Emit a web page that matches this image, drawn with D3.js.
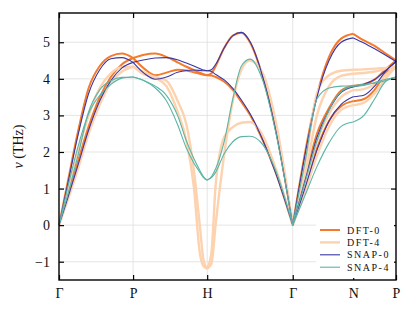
<!DOCTYPE html>
<html>
<head>
<meta charset="utf-8">
<script src="https://cdn.jsdelivr.net/npm/d3@7"></script>
<style>
  body { margin: 0; background: #fff; }
  svg text { font-family: "Liberation Serif", "DejaVu Serif", serif; fill: #111; }
</style>
</head>
<body>
<div id="chart"></div>
<script>
// band path: high-symmetry points (distance along path)
const kLabels = ["Γ", "P", "H", "Γ", "N", "P"];
const kTicks = [0, 0.866, 1.732, 2.732, 3.439, 3.939];
const yTicks = [-1, 0, 1, 2, 3, 4, 5];

// sample positions inside each segment (fraction of segment)
const segFractions = [
    [0, 0.12, 0.25, 0.4, 0.55, 0.7, 0.85, 1],
    [0, 0.15, 0.3, 0.45, 0.6, 0.72, 0.82, 0.9, 0.95, 1],
    [0, 0.05, 0.1, 0.2, 0.3, 0.4, 0.5, 0.65, 0.8, 1],
    [0, 0.2, 0.4, 0.6, 0.8, 1],
    [0, 0.25, 0.5, 0.75, 1]
];

// frequencies (THz), per segment, per branch
const dft0 = [
    [[0, 1.2, 2.5, 3.75, 4.35, 4.62, 4.69, 4.57],
     [0, 0.8, 1.7, 2.7, 3.5, 4.05, 4.4, 4.57]],
    [[4.57, 4.66, 4.69, 4.6, 4.45, 4.33, 4.24, 4.17, 4.13, 4.1],
     [4.57, 4.28, 4.1, 4.17, 4.25, 4.23, 4.18, 4.14, 4.11, 4.1]],
    [[4.1, 4.15, 4.35, 4.85, 5.18, 5.26, 5.0, 4.05, 2.65, 0],
     [4.1, 4.09, 4.05, 3.92, 3.7, 3.37, 3.02, 2.32, 1.45, 0]],
    [[0, 1.95, 3.55, 4.6, 5.1, 5.23],
     [0, 1.25, 2.5, 3.2, 3.68, 3.81],
     [0, 1.05, 2.1, 2.85, 3.25, 3.39]],
    [[5.23, 5.05, 4.9, 4.7, 4.5],
     [3.81, 3.85, 3.98, 4.25, 4.5],
     [3.39, 3.45, 3.7, 4.15, 4.5]]
];

const dft4 = [
    [[0, 0.95, 1.95, 3.0, 3.75, 4.15, 4.32, 4.33],
     [0, 0.7, 1.5, 2.5, 3.3, 3.9, 4.2, 4.33]],
    [[4.33, 4.18, 4.03, 3.8, 3.1, 2.3, 1.05, -0.75, -1.12, -1.19],
     [4.35, 4.12, 4.05, 3.95, 3.4, 2.75, 1.5, 0.0, -0.95, -1.19]],
    [[-1.19, -1.05, 0.05, 1.95, 3.4, 4.25, 4.5, 4.15, 2.85, 0],
     [-1.19, -0.75, 1.12, 2.42, 2.68, 2.8, 2.82, 2.45, 1.55, 0]],
    [[0, 1.6, 3.6, 4.1, 4.22, 4.25],
     [0, 1.3, 3.0, 3.8, 4.08, 4.14],
     [0, 1.1, 2.3, 3.05, 3.5, 3.69],
     [0, 0.9, 1.9, 2.7, 3.15, 3.28]],
    [[4.25, 4.26, 4.28, 4.3, 4.33],
     [4.14, 4.16, 4.2, 4.27, 4.33],
     [3.69, 3.72, 3.85, 4.1, 4.33],
     [3.28, 3.35, 3.6, 4.0, 4.33]]
];

const snap0 = [
    [[0, 1.15, 2.4, 3.6, 4.25, 4.55, 4.58, 4.45],
     [0, 0.75, 1.6, 2.6, 3.4, 3.95, 4.3, 4.45]],
    [[4.45, 4.52, 4.57, 4.58, 4.52, 4.43, 4.35, 4.28, 4.24, 4.22],
     [4.45, 4.15, 3.99, 4.05, 4.18, 4.23, 4.24, 4.23, 4.22, 4.22]],
    [[4.22, 4.25, 4.4, 4.85, 5.18, 5.27, 5.02, 4.05, 2.6, 0],
     [4.22, 4.2, 4.12, 3.97, 3.74, 3.42, 3.05, 2.33, 1.43, 0]],
    [[0, 1.9, 3.5, 4.5, 5.0, 5.12],
     [0, 1.2, 2.4, 3.15, 3.63, 3.78],
     [0, 1.0, 2.05, 2.85, 3.3, 3.51]],
    [[5.12, 4.98, 4.82, 4.65, 4.47],
     [3.78, 3.85, 3.98, 4.22, 4.47],
     [3.51, 3.55, 3.8, 4.2, 4.47]]
];

const snap4 = [
    [[0, 1.05, 2.1, 3.05, 3.55, 3.85, 4.02, 4.05],
     [0, 0.85, 1.85, 3.1, 3.7, 3.95, 4.04, 4.05]],
    [[4.05, 3.95, 3.75, 3.4, 2.75, 2.1, 1.7, 1.45, 1.3, 1.23],
     [4.05, 3.95, 3.8, 3.55, 3.0, 2.3, 1.82, 1.5, 1.33, 1.23]],
    [[1.23, 1.33, 1.55, 2.3, 3.45, 4.35, 4.54, 3.95, 2.55, 0],
     [1.23, 1.3, 1.45, 1.96, 2.28, 2.42, 2.43, 2.2, 1.5, 0]],
    [[0, 1.7, 3.45, 3.75, 3.8, 3.81],
     [0, 1.15, 2.3, 3.15, 3.65, 3.8],
     [0, 0.8, 1.6, 2.25, 2.7, 2.82]],
    [[3.81, 3.85, 3.88, 3.95, 4.05],
     [3.8, 3.82, 3.9, 3.98, 4.05],
     [2.82, 3.0, 3.45, 3.92, 4.05]]
];

const seriesNames = ["DFT-0", "DFT-4", "SNAP-0", "SNAP-4"];
const seriesData = [dft0, dft4, snap0, snap4];
const seriesColors = ["#f47a2e", "#fdd2ae", "#3b37a3", "#5cb5a6"];
const seriesWidths = [2, 2.4, 1.1, 1.1];

const width = 414, height = 312;
const margin = {left: 59, right: 18, top: 13, bottom: 32};

const svg = d3.select("#chart").append("svg")
    .attr("width", width)
    .attr("height", height);

const x = d3.scaleLinear()
    .domain([kTicks[0], kTicks[kTicks.length - 1]])
    .range([margin.left, width - margin.right]);
const y = d3.scaleLinear()
    .domain([-1.5, 5.8])
    .range([height - margin.bottom, margin.top]);

// grid
svg.append("g").selectAll("line.gy")
    .data(yTicks).enter().append("line")
    .attr("x1", x.range()[0]).attr("x2", x.range()[1])
    .attr("y1", d => y(d)).attr("y2", d => y(d))
    .style("stroke", "#dedede").style("stroke-width", 0.8);
svg.append("g").selectAll("line.gx")
    .data(kTicks.slice(1, -1)).enter().append("line")
    .attr("x1", d => x(d)).attr("x2", d => x(d))
    .attr("y1", y.range()[0]).attr("y2", y.range()[1])
    .style("stroke", "#dedede").style("stroke-width", 0.8);

// bands
let line = d3.line()
    .x(d => x(d[0]))
    .y(d => y(d[1]))
    .curve(d3.curveMonotoneX);

let plot = svg.append("g");
seriesData.forEach(function (segs, s) {
    segs.forEach(function (branches, g) {
        let k0 = kTicks[g], k1 = kTicks[g + 1];
        let ks = segFractions[g].map(t => k0 + t * (k1 - k0));
        branches.forEach(function (vals) {
            plot.append("path")
                .attr("d", line(vals.map((v, i) => [ks[i], v])))
                .style("fill", "none")
                .style("stroke", seriesColors[s])
                .style("stroke-width", seriesWidths[s])
                .style("stroke-linejoin", "round");
        });
    });
});

// axes (ticks inward, on all sides)
const tickLen = 5;
let axB = svg.append("g")
    .attr("transform", "translate(0," + y.range()[0] + ")")
    .call(d3.axisBottom(x).tickValues(kTicks).tickFormat((d, i) => kLabels[i])
        .tickSizeInner(-tickLen).tickSizeOuter(0).tickPadding(8));
svg.append("g")
    .attr("transform", "translate(0," + y.range()[1] + ")")
    .call(d3.axisTop(x).tickValues(kTicks).tickFormat("")
        .tickSizeInner(-tickLen).tickSizeOuter(0));
let axL = svg.append("g")
    .attr("transform", "translate(" + x.range()[0] + ",0)")
    .call(d3.axisLeft(y).tickValues(yTicks).tickFormat(d => d < 0 ? "\u2212" + Math.abs(d) : d)
        .tickSizeInner(-tickLen).tickSizeOuter(0).tickPadding(9));
svg.append("g")
    .attr("transform", "translate(" + x.range()[1] + ",0)")
    .call(d3.axisRight(y).tickValues(yTicks).tickFormat("")
        .tickSizeInner(-tickLen).tickSizeOuter(0));

svg.selectAll(".tick line").style("stroke", "#000").style("stroke-width", 1.2);
svg.selectAll(".domain").remove();
[axB, axL].forEach(a => a.attr("font-size", 14).attr("font-family", "Liberation Serif, serif"));
svg.selectAll(".tick text").style("font-size", "14px").style("fill", "#111");

// frame
svg.append("rect")
    .attr("x", x.range()[0]).attr("y", y.range()[1])
    .attr("width", x.range()[1] - x.range()[0])
    .attr("height", y.range()[0] - y.range()[1])
    .style("fill", "none").style("stroke", "#000").style("stroke-width", 1.4);

// y label
let yl = svg.append("text")
    .attr("transform", "translate(23," + (y.range()[0] + y.range()[1]) / 2 + ") rotate(-90)")
    .attr("text-anchor", "middle")
    .style("font-size", "14px");
yl.append("tspan").style("font-style", "italic").text("ν");
yl.append("tspan").text(" (THz)");

// legend
let lg = svg.append("g").attr("transform", "translate(316,224)");
lg.append("rect").attr("width", 78).attr("height", 54).style("fill", "#fff");
seriesNames.forEach(function (name, i) {
    let row = lg.append("g").attr("transform", "translate(0," + (6 + i * 12.4) + ")");
    row.append("line")
        .attr("x1", 4).attr("x2", 24)
        .style("stroke", seriesColors[i])
        .style("stroke-width", seriesWidths[i]);
    row.append("text")
        .attr("x", 31).attr("y", 3.5)
        .style("font-size", "10px")
        .style("letter-spacing", "1.5px")
        .text(name.toUpperCase());
});
</script>
</body>
</html>
